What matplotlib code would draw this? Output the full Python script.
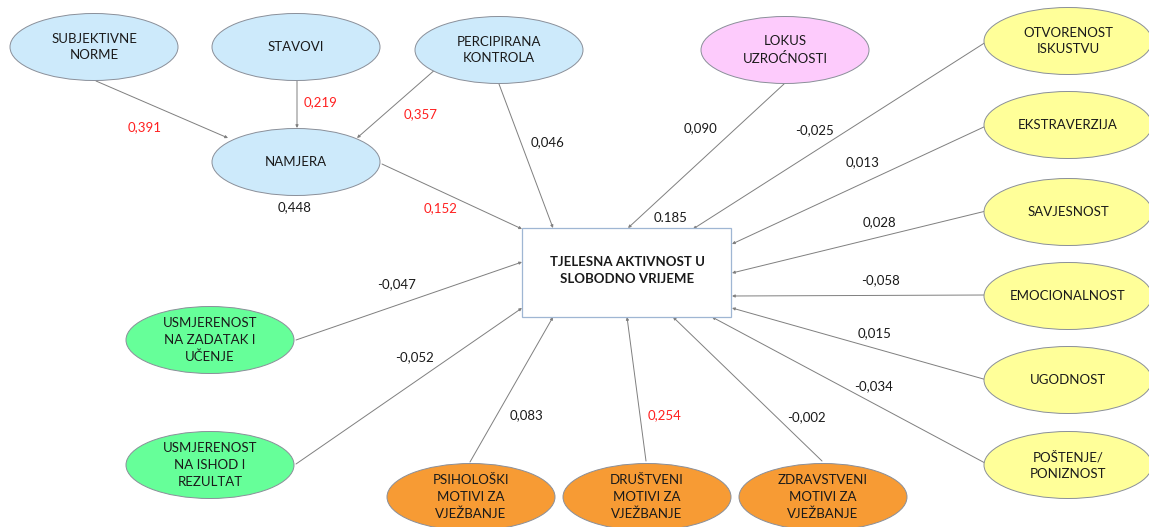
import matplotlib.pyplot as plt
from matplotlib.patches import Ellipse, Rectangle

plt.rcParams['font.family'] = ['Lato', 'DejaVu Sans']

# node names (upper-case labels as in the diagram)
nodes = [
    'SUBJEKTIVNE\nNORME', 'STAVOVI', 'PERCIPIRANA\nKONTROLA', 'NAMJERA',
    'LOKUS\nUZROĆNOSTI',
    'OTVORENOST\nISKUSTVU', 'EKSTRAVERZIJA', 'SAVJESNOST', 'EMOCIONALNOST',
    'UGODNOST', 'POŠTENJE/\nPONIZNOST',
    'USMJERENOST\nNA ZADATAK I\nUČENJE', 'USMJERENOST\nNA ISHOD I\nREZULTAT',
    'PSIHOLOŠKI\nMOTIVI ZA\nVJEŽBANJE', 'DRUŠTVENI\nMOTIVI ZA\nVJEŽBANJE',
    'ZDRAVSTVENI\nMOTIVI ZA\nVJEŽBANJE',
]
groups = ['tpb', 'tpb', 'tpb', 'tpb', 'lokus',
          'big5', 'big5', 'big5', 'big5', 'big5', 'big5',
          'goal', 'goal', 'motiv', 'motiv', 'motiv']
outcome = 'TJELESNA AKTIVNOST U\nSLOBODNO VRIJEME'

# paths: source node index, target ('NAMJERA' or outcome), coefficient, significant
path_src = [0, 1, 2, 2, 3, 4, 5, 6, 7, 8, 9, 10, 15, 14, 13, 12, 11]
path_coef = [0.391, 0.219, 0.357, 0.046, 0.152, 0.090, -0.025, 0.013, 0.028,
             -0.058, 0.015, -0.034, -0.002, 0.254, 0.083, -0.052, -0.047]
path_sig = [True, True, True, False, True, False, False, False, False,
            False, False, False, False, True, False, False, False]
r2_namjera = '0,448'
r2_outcome = '0.185'

# ---- layout (pixel coordinates) ----
node_xy = [(94, 47), (296, 47), (499, 50), (296, 162), (785, 50),
           (1068, 41), (1068, 125), (1068, 212), (1068, 296), (1068, 380),
           (1068, 465), (210, 340), (210, 465), (471, 497), (647, 497),
           (823, 497)]
node_w = 168
node_h = 67
colors = {'tpb': '#cdeafb', 'lokus': '#fdcbfc', 'big5': '#ffff99',
          'goal': '#66ff99', 'motiv': '#f79b34'}
box = (522, 228, 209, 89)

path_start = [(96, 81), (297, 81), (437, 68), (499, 84), (382, 164),
              (784, 84), (986, 42), (986, 126), (986, 211), (987, 295),
              (987, 380), (985, 463), (822, 461), (646, 461), (470, 462),
              (296, 464), (296, 340)]
path_end = [(228, 138), (297, 128), (357, 138), (553, 228), (522, 229),
            (628, 228), (693, 229), (732, 244), (732, 273), (732, 296),
            (732, 308), (712, 317), (673, 317), (627, 317), (553, 317),
            (522, 308), (522, 262)]
label_xy = [(145, 127), (321, 102), (421, 114), (548, 142), (441, 208),
            (700, 128), (815, 130), (863, 162), (879, 222), (880, 280),
            (875, 333), (874, 386), (806, 417), (665, 415), (527, 415),
            (414, 357), (396, 284)]

fig = plt.figure(figsize=(11.49, 5.27), dpi=100)
ax = fig.add_axes([0, 0, 1, 1])
ax.set_xlim(0, 1149)
ax.set_ylim(527, 0)
ax.axis('off')

for (s, e) in zip(path_start, path_end):
    ax.annotate('', xy=e, xytext=s,
                arrowprops=dict(arrowstyle='-|>', color='#7f7f7f', lw=0.7,
                                mutation_scale=4, shrinkA=0, shrinkB=0))

for name, grp, (x, y) in zip(nodes, groups, node_xy):
    ax.add_patch(Ellipse((x, y), node_w, node_h, facecolor=colors[grp],
                         edgecolor='#8a8f99', lw=0.7, zorder=3))
    ax.text(x, y, name, ha='center', va='center', fontsize=9.5,
            linespacing=1.45, color='#1a1a1a', zorder=4)

bx, by, bw, bh = box
ax.add_patch(Rectangle((bx, by), bw, bh, facecolor='white',
                       edgecolor='#9fb6d3', lw=0.9, zorder=3))
ax.text(bx + bw / 2 + 1, by + bh / 2 - 2, outcome, ha='center', va='center',
        fontsize=9.5, fontweight='bold', linespacing=1.45, color='#1a1a1a',
        zorder=4)

for coef, sig, (x, y) in zip(path_coef, path_sig, label_xy):
    txt = f'{coef:.3f}'.replace('.', ',')
    ax.text(x, y, txt, ha='center', va='center', fontsize=9.5,
            color='#ff2020' if sig else '#1a1a1a')

ax.text(295, 207, r2_namjera, ha='center', va='center', fontsize=9.5,
        color='#1a1a1a')
ax.text(671, 218, r2_outcome, ha='center', va='center', fontsize=9.5,
        color='#1a1a1a')

fig.savefig('out.png', dpi=100)
